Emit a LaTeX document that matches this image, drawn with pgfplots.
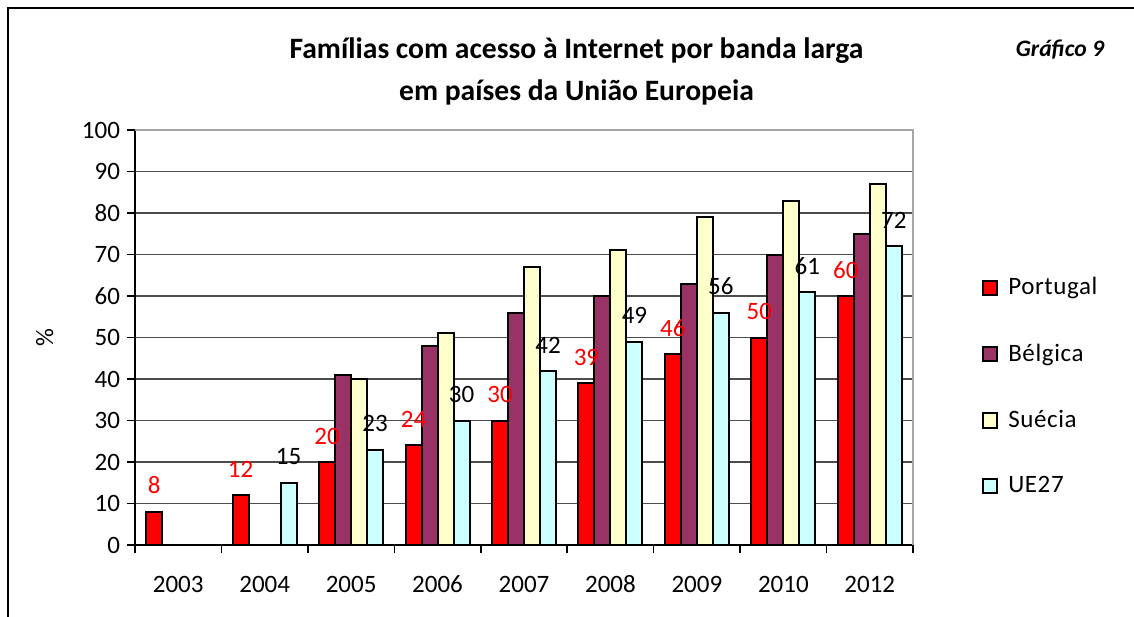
\documentclass[border=0pt]{standalone}
\usepackage{fontspec}
\setmainfont{Carlito}
\newfontfamily\legfont[LetterSpace=2.5]{Carlito}
\usepackage{pgfplots}
\pgfplotsset{compat=1.18}
\definecolor{ptred}{RGB}{255,0,0}
\definecolor{bepurple}{RGB}{153,51,102}
\definecolor{seyellow}{RGB}{255,255,204}
\definecolor{uecyan}{RGB}{204,255,255}
\pgfplotsset{legbox/.style={legend image code/.code={\draw[##1] (0pt,-3.6pt) rectangle (7.2pt,3.6pt);}}}

\begin{document}
\begin{tikzpicture}
\path[use as bounding box] (-67.5pt,-35.5pt) rectangle (499.5pt,272.5pt);
\draw[line width=1pt] (-63.5pt,-40pt) -- (-63.5pt,268.5pt) -- (505pt,268.5pt);
\begin{axis}[
    scale only axis,
    width=389pt, height=207.5pt,
    ybar=0pt, bar width=8pt,
    xmin=-0.5, xmax=8.5, ymin=0, ymax=100,
    xtick={0,...,8},
    xticklabels={2003,2004,2005,2006,2007,2008,2009,2010,2012},
    minor xtick={-0.5,0.5,...,8.5},
    ytick={0,10,...,100},
    /pgf/number format/assume math mode=true,
    axis x line*=bottom, axis y line*=left,
    axis line style={black, line width=1pt, -},
    ymajorgrids, grid style={black!70, line width=0.6pt},
    tick align=outside, major tick length=4pt, minor tick length=4pt,
    tick style={black, line width=0.8pt},
    major x tick style={draw=none},
    ticklabel style={font=\fontsize{12.5}{14}\selectfont},
    xticklabel style={text height=8pt, text depth=0pt, yshift=-8pt},
    ylabel={\%},
    ylabel style={at={(axis description cs:-0.116,0.5)}, anchor=center, font=\fontsize{12.5}{14}\selectfont},
    legend style={at={(1.088,0.655)}, anchor=north west, draw=none, fill=none,
        inner sep=0pt, row sep=19pt, font=\legfont\fontsize{12.5}{14}\selectfont,
        nodes={inner xsep=5pt}},
    legend cell align=left,
    clip=false,
]
\addplot[fill=ptred, draw=black, line width=1pt, legbox,
    nodes near coords,
    every node near coord/.append style={text=red, yshift=5pt, font=\fontsize{12.5}{14}\selectfont}]
coordinates {(0,8) (1,12) (2,20) (3,24) (4,30) (5,39) (6,46) (7,50) (8,60)};
\addlegendentry{Portugal}
\addplot[fill=bepurple, draw=black, line width=1pt, legbox]
coordinates {(2,41) (3,48) (4,56) (5,60) (6,63) (7,70) (8,75)};
\addlegendentry{Bélgica}
\addplot[fill=seyellow, draw=black, line width=1pt, legbox]
coordinates {(2,40) (3,51) (4,67) (5,71) (6,79) (7,83) (8,87)};
\addlegendentry{Suécia}
\addplot[fill=uecyan, draw=black, line width=1pt, legbox,
    nodes near coords,
    every node near coord/.append style={text=black, yshift=5pt, font=\fontsize{12.5}{14}\selectfont}]
coordinates {(1,15) (2,23) (3,30) (4,42) (5,49) (6,56) (7,61) (8,72)};
\addlegendentry{UE27}
\draw[gray!70, line width=1.2pt] (rel axis cs:0,1) -- (rel axis cs:1,1) -- (rel axis cs:1,0);
\end{axis}
\node[anchor=base, font=\bfseries\fontsize{14.8}{17}\selectfont] at (220.75pt,243pt) {Famílias com acesso à Internet por banda larga};
\node[anchor=base, font=\bfseries\fontsize{14.8}{17}\selectfont] at (220.75pt,222pt) {em países da União Europeia};
\node[anchor=base, font=\bfseries\itshape\fontsize{11.8}{13}\selectfont] at (462.5pt,244pt) {Gráfico 9};
\end{tikzpicture}
\end{document}
